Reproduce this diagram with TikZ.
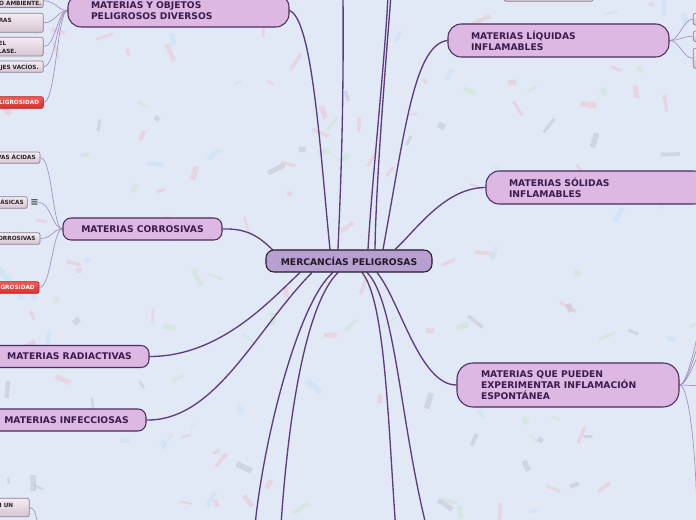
\documentclass[tikz,border=0pt]{standalone}
\usepackage{fontspec}
\setmainfont{DejaVu Sans}
\usetikzlibrary{calc,shadings}
\definecolor{bg}{HTML}{E1E9F7}
\definecolor{mainfill}{HTML}{DCB8E3}
\definecolor{mainborder}{HTML}{4B2C5C}
\definecolor{maintext}{HTML}{3A1C4C}
\definecolor{cenfill}{HTML}{B7A0CF}
\definecolor{cenborder}{HTML}{22182A}
\definecolor{mainline}{HTML}{5E3C7E}
\definecolor{leafline}{HTML}{A48DBF}
\definecolor{leaftop}{HTML}{F6ECF3}
\definecolor{leafbot}{HTML}{D5C5D2}
\definecolor{leafborder}{HTML}{8C7E8B}
\definecolor{redtop}{HTML}{F45C58}
\definecolor{redbot}{HTML}{D8302C}
\definecolor{redborder}{HTML}{B82222}
\definecolor{cpink}{HTML}{F0B8C0}
\definecolor{cgray}{HTML}{B8B8C4}
\definecolor{cblue}{HTML}{BFDDF5}
\definecolor{cgreen}{HTML}{C6E2C2}
\pgfdeclarelayer{bgl}
\pgfsetlayers{bgl,main}
\pgfmathdeclarerandomlist{conf}{{cpink}{cgray}{cblue}{cgreen}{cpink}{cpink}}
\newcommand\leafbox[6]{\node[#6, minimum width={(#4-(#2))*0.75pt}, minimum height={(#5-(#3))*0.75pt}] (#1) at ({(#2+#4)/2},{(#3+#5)/2}) {};}
\begin{document}
\begin{tikzpicture}[x=0.75pt,y=-0.75pt,
 mainbox/.style={draw=mainborder, fill=mainfill, line width=0.8pt, text=maintext, font=\fontsize{6.9}{8.25}\selectfont\bfseries, inner ysep=0pt},
 twoline/.style={mainbox, rounded corners=10pt, minimum width=165.75pt, minimum height=24.75pt, inner xsep=17.25pt, text width=131.25pt, align=left},
 threeline/.style={mainbox, rounded corners=12pt, minimum width=166.5pt, minimum height=33pt, inner xsep=18pt, text width=130.5pt, align=left},
 oneline/.style={mainbox, rounded corners=6pt, minimum width=119.25pt, minimum height=16.5pt, inner xsep=0pt, align=center},
 cenbox/.style={draw=cenborder, fill=cenfill, line width=0.8pt, text=cenborder, font=\fontsize{6.9}{8.25}\selectfont\bfseries, rounded corners=6pt, minimum width=124.5pt, minimum height=16.5pt, inner sep=0pt},
 leafbox/.style={draw=leafborder, line width=0.5pt, rounded corners=1.5pt, top color=leaftop, bottom color=leafbot, inner sep=0pt},
 redbox/.style={draw=redborder, line width=0.5pt, rounded corners=1.5pt, top color=redtop, bottom color=redbot, inner sep=0pt},
 leaftext/.style={inner sep=0pt, font=\fontsize{4.3}{6}\selectfont\bfseries, text=black!85, text height=3.1pt, text depth=0pt},
 redtext/.style={leaftext, text=white},
 iconstyle/.style={inner sep=0pt, font=\fontsize{7.5}{7.5}\selectfont\bfseries, text=black!70},
 mline/.style={draw=mainline, line width=1pt},
 lline/.style={draw=leafline, line width=0.5pt}]

\useasboundingbox (0,0) rectangle (696,520);
\begin{pgfonlayer}{bgl}
\clip (0,0) rectangle (696,520);
\fill[bg] (0,0) rectangle (696,520);
\pgfmathsetseed{12}
\foreach \i in {1,...,170}{
 \pgfmathsetmacro\cx{rnd*696}
 \pgfmathsetmacro\cy{rnd*520}
 \pgfmathsetmacro\ca{rnd*180}
 \pgfmathsetmacro\cl{5+rnd*14}
 \pgfmathsetmacro\cw{2+rnd*4}
 \pgfmathrandomitem{\cc}{conf}
 \fill[\cc, opacity=0.4, rotate around={\ca:(\cx,\cy)}] ({\cx-\cl/2},{\cy-\cw/2}) rectangle ({\cx+\cl/2},{\cy+\cw/2});
}
\end{pgfonlayer}

\clip (0,0) rectangle (696,520);

% main nodes
\node[twoline] (div) at (178.5,10.5) {MATERIAS Y OBJETOS\\PELIGROSOS DIVERSOS};
\node[twoline] (liq) at (558.5,40.5) {MATERIAS LÍQUIDAS\\INFLAMABLES};
\node[twoline] (sol) at (596.5,187.5) {MATERIAS SÓLIDAS\\INFLAMABLES};
\node[threeline] (esp) at (568,385) {MATERIAS QUE PUEDEN\\EXPERIMENTAR INFLAMACIÓN\\ESPONTÁNEA};
\node[oneline] (cor) at (142.5,229) {MATERIAS CORROSIVAS};
\node[oneline] (rad) at (69.5,356.5) {MATERIAS RADIACTIVAS};
\node[oneline] (inf) at (66.5,420) {MATERIAS INFECCIOSAS};
\node[cenbox] (cen) at (349,261) {MERCANCÍAS PELIGROSAS};

% leaves of div
\leafbox{la}{-30}{-6}{43.3}{7.5}{leafbox}
\node[leaftext, anchor=east] (lat) at (41.7,3.2) {O AMBIENTE.};
\leafbox{lb}{-30}{13.3}{43.3}{32.3}{leafbox}
\node[leaftext, anchor=east] (lbt) at (12,20) {RAS};
\leafbox{lc}{-30}{37.3}{43.3}{56}{leafbox}
\node[leaftext, anchor=east] (lct1) at (6.5,43.3) {EL};
\node[leaftext, anchor=east] (lct2) at (16.8,51.7) {LASE.};
\leafbox{ld}{-30}{61}{43.3}{72.3}{leafbox}
\node[leaftext, anchor=east] (ldt) at (39,67) {JES VACÍOS.};
\leafbox{le}{-30}{96.7}{43.3}{108.3}{redbox}
\node[redtext, anchor=east] (let) at (39.3,102.7) {LIGROSIDAD};

% leaves of cor
\leafbox{ca}{-30}{152}{40}{163.3}{leafbox}
\node[leaftext, anchor=east] (cat) at (36,157.7) {VAS ÁCIDAS};
\leafbox{cb}{-30}{196.7}{27.3}{208.3}{leafbox}
\node[leaftext, anchor=east] (cbt) at (24,202.7) {ÁSICAS};
\node[iconstyle] (cbi) at (34.5,202.5) {≡};
\leafbox{cc}{-30}{232.7}{40}{244.3}{leafbox}
\node[leaftext, anchor=east] (cct) at (35.8,238.7) {ORROSIVAS};
\leafbox{cd}{-30}{281.7}{39}{293.3}{redbox}
\node[redtext, anchor=east] (cdt) at (35,287.7) {IGROSIDAD};

% leaves of liq
\leafbox{ra}{693.3}{13.3}{760}{25}{leafbox}
\leafbox{rb}{693.3}{31}{760}{41.5}{leafbox}
\leafbox{rc}{693.3}{48.3}{760}{68.3}{leafbox}

% partial leaves at the edges
\leafbox{tp}{504}{-15}{593}{1.3}{leafbox}
\leafbox{bl}{-30}{498.3}{29.3}{516.7}{leafbox}
\node[leaftext, anchor=east] (blt) at (13.5,505) {I UN};

% free ends
\coordinate (tv) at (343,-5);
\coordinate (ta) at (388,-5);
\coordinate (tb) at (391,-5);
\coordinate (bl1) at (255,525);
\coordinate (bl2) at (281,525);
\coordinate (br1) at (395.5,525);
\coordinate (br2) at (426,525);
\coordinate (e1) at (706,298);
\coordinate (e2) at (706,318);
\coordinate (e3) at (706,338);
\coordinate (e4) at (706,386);
\coordinate (e5) at (697,530);
\coordinate (bx) at (37,525);

\begin{pgfonlayer}{bgl}
\clip (0,0) rectangle (696,520);
% main connectors
\draw[mline] (div.east) .. controls +(23,9) and +(-10,-100) .. ($(cen.north)+(-19,0)$);
\draw[mline] (tv) .. controls (344,120) and (340,200) .. ($(cen.north)+(-11,0)$);
\draw[mline] (ta) .. controls (385,60) and (372,180) .. ($(cen.north)+(19,0)$);
\draw[mline] (tb) .. controls (386,60) and (376,180) .. ($(cen.north)+(26,0)$);
\draw[mline] (liq.west) .. controls +(-33,4) and +(22,-120) .. ($(cen.north)+(34,0)$);
\draw[mline] (sol.west) .. controls +(-41,0) and +(20,-18) .. ($(cen.north)+(46,0)$);
\draw[mline] (cor.east) .. controls +(28,-1) and +(-13,-12) .. ($(cen.north west)+(9,2)$);
\draw[mline] (rad.east) .. controls +(71,0) and +(-30,28) .. ($(cen.south)+(-49,0)$);
\draw[mline] (inf.east) .. controls +(69,1) and +(-57,58) .. ($(cen.south)+(-37,0)$);
\draw[mline] ($(cen.south)+(-16,0)$) .. controls (300,300) and (265,430) .. (bl1);
\draw[mline] ($(cen.south)+(-11,0)$) .. controls (305,305) and (288,420) .. (bl2);
\draw[mline] ($(cen.south)+(13,0)$) .. controls (385,300) and (388,420) .. (br1);
\draw[mline] ($(cen.south)+(18,0)$) .. controls (395,300) and (400,420) .. (br2);
\draw[mline] (esp.west) .. controls +(-37,0) and +(23,28) .. ($(cen.south)+(28,0)$);
% leaf connectors
\foreach \n in {la,lb,lc,ld,le}{\draw[lline] (\n.east) .. controls +(12,0) and +(-10,0) .. (div.west);}
\foreach \n in {ca,cbi,cc,cd}{\draw[lline] (\n.east) .. controls +(12,0) and +(-10,0) .. (cor.west);}
\foreach \n in {ra,rb,rc}{\draw[lline] (liq.east) .. controls +(10,0) and +(-10,0) .. (\n.west);}
\draw[lline] (esp.east) .. controls +(10,0) and +(-4,12) .. (e1);
\draw[lline] (esp.east) .. controls +(10,0) and +(-5,10) .. (e2);
\draw[lline] (esp.east) .. controls +(9,0) and +(-6,8) .. (e3);
\draw[lline] (esp.east) -- (e4);
\draw[lline] (esp.east) .. controls +(10,0) and +(0,-70) .. (e5);
\draw[lline] (bl.east) .. controls +(5,0) and +(0,-8) .. (bx);
\end{pgfonlayer}
\end{tikzpicture}
\end{document}
